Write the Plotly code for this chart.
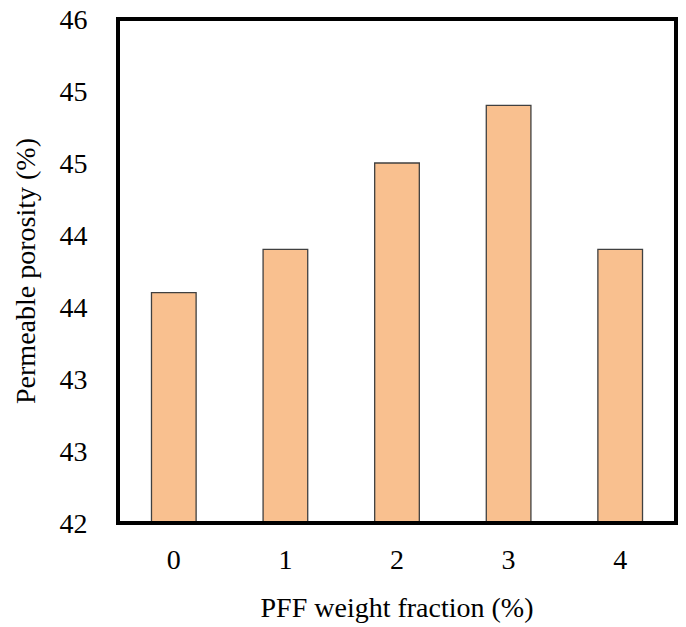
import plotly.graph_objects as go

categories = ["0", "1", "2", "3", "4"]
porosity = [43.6, 43.9, 44.5, 44.9, 43.9]
y_tick_values = [42, 42.5, 43, 43.5, 44, 44.5, 45, 45.5]
y_tick_labels = ["42", "43", "43", "44", "44", "45", "45", "46"]

FONT = "Liberation Serif, Times New Roman, serif"
FS = 28

fig = go.Figure()
fig.add_trace(go.Bar(
    x=categories, y=porosity,
    width=0.4,
    marker=dict(color="#F9C08F", line=dict(color="#404040", width=1.3)),
))

fig.update_layout(
    width=686, height=627,
    margin=dict(l=118, r=10, t=19, b=104),
    paper_bgcolor="white", plot_bgcolor="white",
    showlegend=False,
    font=dict(family=FONT, size=FS, color="black"),
    xaxis=dict(
        type="category", automargin=False,
        showgrid=False, zeroline=False, showline=False,
        ticks="outside", ticklen=0, tickcolor="rgba(0,0,0,0)",
        ticklabelstandoff=11,
        tickfont=dict(family=FONT, size=FS, color="black"),
        title=dict(text="PFF weight fraction (%)", font=dict(family=FONT, size=FS), standoff=23),
    ),
    yaxis=dict(
        range=[42, 45.5], automargin=False,
        tickmode="array", tickvals=y_tick_values, ticktext=y_tick_labels,
        ticklabeloverflow="allow",
        showgrid=False, zeroline=False, showline=False,
        ticks="outside", ticklen=0, tickcolor="rgba(0,0,0,0)",
        ticklabelstandoff=24,
        tickfont=dict(family=FONT, size=FS, color="black"),
        title=dict(text="Permeable porosity (%)", font=dict(family=FONT, size=FS)),
    ),
    shapes=[dict(type="rect", xref="paper", yref="paper", x0=0, y0=0, x1=1, y1=1,
                 line=dict(color="black", width=4), layer="above")],
)

fig.write_html("out.html", config={"displayModeBar": False},
               post_script="document.body.style.margin='0';")
